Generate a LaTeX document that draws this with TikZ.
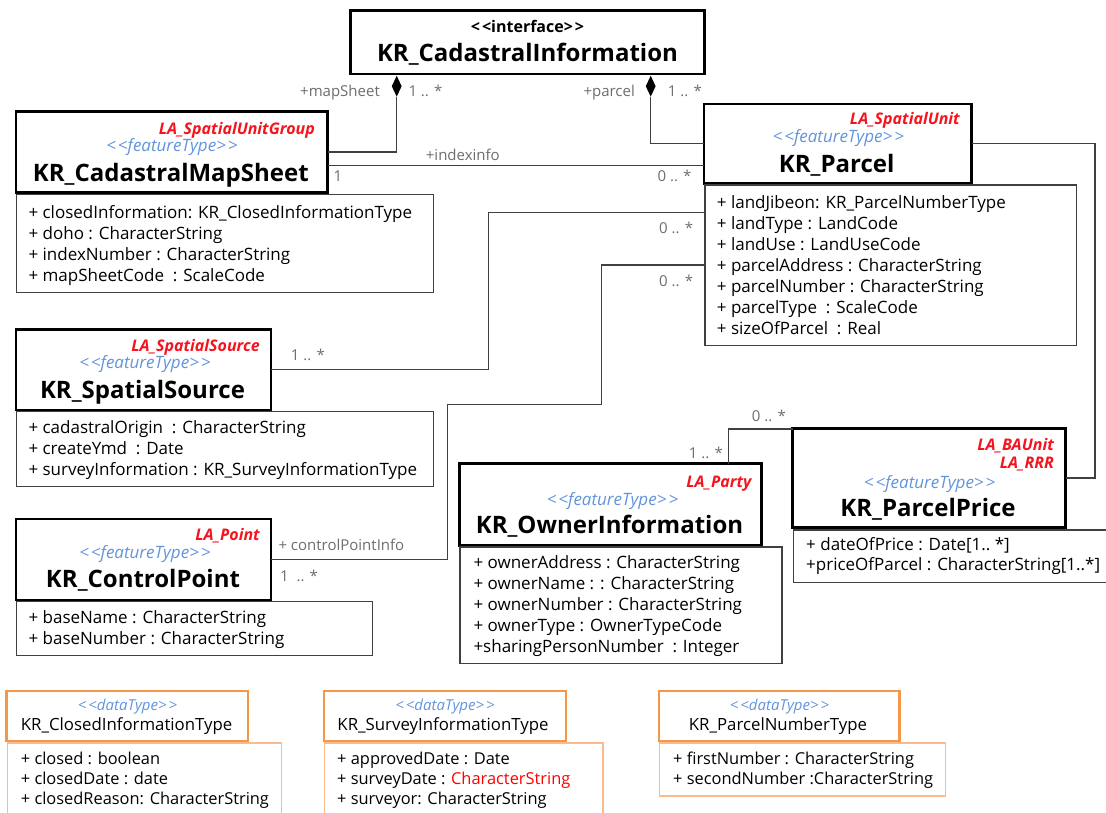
\documentclass[tikz,border=0pt]{standalone}
\usepackage{fontspec}
\setmainfont{Open Sans}
\usetikzlibrary{shapes.geometric,fit}
\definecolor{stereoblue}{RGB}{98,148,220}
\definecolor{stereored}{RGB}{245,20,30}
\definecolor{linegray}{RGB}{64,64,64}
\definecolor{labelgray}{RGB}{110,110,110}
\definecolor{dtorange}{RGB}{246,150,72}
\definecolor{dtlight}{RGB}{250,186,140}
\newcommand\umlfs[1]{\fontsize{#1}{#1}\selectfont}
\newcommand\chev[1]{<\kern2pt<#1>\kern2pt>}

\begin{document}
\begin{tikzpicture}[x=1pt,y=-1pt,
  hdr/.style={draw=black, line width=2.8pt, inner sep=0pt, outer sep=0pt},
  attrbox/.style={draw=linegray, line width=1.3pt, inner sep=0pt, outer sep=0pt},
  dthdr/.style={draw=dtorange, line width=2.8pt, inner sep=0pt, outer sep=0pt},
  dtattr/.style={draw=dtlight, line width=1.4pt, inner sep=0pt, outer sep=0pt},
  ttl/.style={anchor=base, inner sep=0pt, font=\umlfs{24}\bfseries},
  ster/.style={anchor=base east, inner sep=0pt, text=stereored, font=\umlfs{16}\bfseries\itshape},
  ftype/.style={anchor=base, inner sep=0pt, text=stereoblue, font=\umlfs{17}\itshape},
  dtster/.style={anchor=base, inner sep=0pt, text=stereoblue, font=\umlfs{15}\itshape},
  dttitle/.style={anchor=base, inner sep=0pt, font=\umlfs{16.8}},
  attr/.style={anchor=base west, inner sep=0pt, font=\umlfs{17}},
  dtattrtext/.style={anchor=base west, inner sep=0pt, font=\umlfs{16.4}},
  lbl/.style={inner sep=0pt, text=labelgray, font=\umlfs{15}},
  conn/.style={draw=linegray, line width=1.4pt},
  comp/.style={diamond, fill=black, draw=none, inner sep=0pt, minimum width=10pt, minimum height=21pt, anchor=north},
]
\fill[white] (0,0) rectangle (1106,813);
\useasboundingbox (0,0) rectangle (1106,813);

% ---------- interface ----------
\node[hdr, fit={(350.3,10.7) (704.3,74)}] (ci) {};
\node[anchor=base, inner sep=0pt, font=\umlfs{16}\bfseries] (ci-s) at (527.5,32.3) {\chev{interface}};
\node[ttl] (ci-t) at (527.5,61.7) {KR\_CadastralInformation};

% ---------- KR_CadastralMapSheet ----------
\node[hdr, fit={(16,111.7) (327.5,192.7)}] (ms) {};
\node[ster] (ms-r) at (315,134.3) {LA\_SpatialUnitGroup};
\node[ftype] (ms-f) at (172,152) {\chev{featureType}};
\node[ttl] (ms-t) at (170.8,181.7) {KR\_CadastralMapSheet};
\node[attrbox, fit={(16.7,194.3) (433.3,292.7)}] (msa) {};
\foreach \t [count=\i] in {%
  {+ closedInformation: KR\_ClosedInformationType},
  {+ doho : CharacterString},
  {+ indexNumber : CharacterString},
  {+ mapSheetCode\ \ : ScaleCode}}
  \node[attr] (msa-\i) at (28.3,{218.7+(\i-1)*20.8}) {\t};

% ---------- KR_Parcel ----------
\node[hdr, fit={(704,104) (971.7,183.3)}] (pa) {};
\node[ster] (pa-r) at (960,125) {LA\_SpatialUnit};
\node[ftype] (pa-f) at (838.3,142.7) {\chev{featureType}};
\node[ttl] (pa-t) at (836.7,172.7) {KR\_Parcel};
\node[attrbox, fit={(705,185) (1076.7,345.7)}] (pattr) {};
\foreach \t [count=\i] in {%
  {+ landJibeon: KR\_ParcelNumberType},
  {+ landType : LandCode},
  {+ landUse : LandUseCode},
  {+ parcelAddress : CharacterString},
  {+ parcelNumber : CharacterString},
  {+ parcelType\ \ : ScaleCode},
  {+ sizeOfParcel\ \ : Real}}
  \node[attr] (pattr-\i) at (716.7,{208.5+(\i-1)*20.95}) {\t};

% ---------- KR_SpatialSource ----------
\node[hdr, fit={(16,329.3) (271,410)}] (ss) {};
\node[ster] (ss-r) at (260,351) {LA\_SpatialSource};
\node[ftype] (ss-f) at (145,368.3) {\chev{featureType}};
\node[ttl] (ss-t) at (142.5,398.3) {KR\_SpatialSource};
\node[attrbox, fit={(16.7,411.7) (433.3,486.7)}] (ssa) {};
\foreach \t [count=\i] in {%
  {+ cadastralOrigin\ \ : CharacterString},
  {+ createYmd\ \ : Date},
  {+ surveyInformation : KR\_SurveyInformationType}}
  \node[attr] (ssa-\i) at (28.3,{433.3+(\i-1)*20.85}) {\t};

% ---------- KR_ControlPoint ----------
\node[hdr, fit={(16,519) (271,600)}] (cp) {};
\node[ster] (cp-r) at (260,540.7) {LA\_Point};
\node[ftype] (cp-f) at (145,558.3) {\chev{featureType}};
\node[ttl] (cp-t) at (143,587.3) {KR\_ControlPoint};
\node[attrbox, fit={(16.7,601.7) (372.3,655.7)}] (cpa) {};
\foreach \t [count=\i] in {%
  {+ baseName : CharacterString},
  {+ baseNumber : CharacterString}}
  \node[attr] (cpa-\i) at (28.3,{623.3+(\i-1)*21}) {\t};

% ---------- KR_OwnerInformation ----------
\node[hdr, fit={(459.3,463.5) (761.7,545.7)}] (ow) {};
\node[ster] (ow-r) at (751.7,487.3) {LA\_Party};
\node[ftype] (ow-f) at (612.5,505) {\chev{featureType}};
\node[ttl] (ow-t) at (609.5,533.3) {KR\_OwnerInformation};
\node[attrbox, fit={(460,547) (782,663.3)}] (owa) {};
\foreach \t [count=\i] in {%
  {+ ownerAddress : CharacterString},
  {+ ownerName : : CharacterString},
  {+ ownerNumber : CharacterString},
  {+ ownerType : OwnerTypeCode},
  {+sharingPersonNumber\ \ : Integer}}
  \node[attr] (owa-\i) at (473.3,{568.3+(\i-1)*21}) {\t};

% ---------- KR_ParcelPrice ----------
\node[hdr, fit={(792.7,428.3) (1065.7,527.7)}] (pp) {};
\node[ster] (pp-r1) at (1054,450.7) {LA\_BAUnit};
\node[ster] (pp-r2) at (1054,468.3) {LA\_RRR};
\node[ftype] (pp-f) at (929.7,488.3) {\chev{featureType}};
\node[ttl] (pp-t) at (928,516.7) {KR\_ParcelPrice};
\node[attrbox, fit={(793.3,530) (1112,582.7)}] (ppa) {};
\node[attr] (ppa-1) at (806,550.7) {+ dateOfPrice\ : Date[1..\ *]};
\node[attr] (ppa-2) at (806,570.7) {+priceOfParcel\ : CharacterString[1..*]};

% ---------- data types ----------
\node[dthdr, fit={(6.5,691) (248,741)}] (cl) {};
\node[dtster] (cl-s) at (127.5,710.5) {\chev{dataType}};
\node[dttitle] (cl-t) at (126.6,730.7) {KR\_ClosedInformationType};
\node[dtattr, fit={(7.2,743) (281.5,822)}] (cla) {};
\foreach \t [count=\i] in {%
  {+ closed : boolean},
  {+ closedDate : date},
  {+ closedReason: CharacterString}}
  \node[dtattrtext] (cla-\i) at (20.7,{764+(\i-1)*20.3}) {\t};

\node[dthdr, fit={(324,691) (566,741)}] (sv) {};
\node[dtster] (sv-s) at (445,710.5) {\chev{dataType}};
\node[dttitle] (sv-t) at (443,730.7) {KR\_SurveyInformationType};
\node[dtattr, fit={(324.5,743) (603,822)}] (sva) {};
\foreach \t [count=\i] in {%
  {+ approvedDate : Date},
  {+ surveyDate : \textcolor{red}{CharacterString}},
  {+ surveyor: CharacterString}}
  \node[dtattrtext] (sva-\i) at (337,{764+(\i-1)*20.3}) {\t};

\node[dthdr, fit={(659,691) (899.3,741)}] (pn) {};
\node[dtster] (pn-s) at (779.5,710.5) {\chev{dataType}};
\node[dttitle] (pn-t) at (778,730.7) {KR\_ParcelNumberType};
\node[dtattr, fit={(659.7,743) (945.7,796)}] (pna) {};
\foreach \t [count=\i] in {%
  {+ firstNumber : CharacterString},
  {+ secondNumber :CharacterString}}
  \node[dtattrtext] (pna-\i) at (673,{764+(\i-1)*20.3}) {\t};

% ---------- connectors ----------
\node[comp] (dms) at (396.7,75.5) {};
\node[comp] (dpa) at (650.7,75.5) {};
\draw[conn] (dms.south) |- (ms.east);
\draw[conn] (dpa.south) |- (pa.west);

\coordinate (idx) at (0,165.7);
\draw[conn] (ms.east |- idx) -- (pa.west |- idx);

\coordinate (ssb) at (488.3,212.3);
\draw[conn] (ss.east) -| (ssb) -- (pattr.west |- ssb);

\coordinate (cpb1) at (447.7,404.3);
\coordinate (cpb2) at (601.7,265);
\draw[conn] (cp.east) -| (cpb1) -| (cpb2) -- (pattr.west |- cpb2);

\coordinate (opb) at (728.3,429);
\draw[conn] (ow.north -| opb) |- (pp.west |- opb);

\coordinate (ppb) at (1095,0);
\draw[conn] (pa.east) -| (ppb |- pp.east) -- (pp.east);

% ---------- role names and multiplicities ----------
\node[lbl, anchor=base east] (l-ms) at (380,96.7) {+mapSheet};
\node[lbl, anchor=base west] (m-ms) at (408.3,96.7) {1 .. *};
\node[lbl, anchor=base east] (l-pa) at (635,96.7) {+parcel};
\node[lbl, anchor=base west] (m-pa) at (667.7,96.7) {1 .. *};
\node[lbl, anchor=base west] (l-idx) at (425.7,160.7) {+indexinfo};
\node[lbl, anchor=base west] (m-idx1) at (333.3,181.7) {1};
\node[lbl, anchor=base east] (m-idx2) at (691.7,182) {0 .. *};
\node[lbl, anchor=base west] (m-ss1) at (290.7,360) {1 .. *};
\node[lbl, anchor=base east] (m-ss2) at (693.3,233.3) {0 .. *};
\node[lbl, anchor=base west] (l-cp) at (278.3,550) {+ controlPointInfo};
\node[lbl, anchor=base west] (m-cp1) at (280,581.7) {1\ \ .. *};
\node[lbl, anchor=base east] (m-cp2) at (693.3,286.7) {0 .. *};
\node[lbl, anchor=base east] (m-ow) at (723,458) {1 .. *};
\node[lbl, anchor=base west] (m-pp) at (751.7,421.7) {0 .. *};
\end{tikzpicture}
\end{document}
